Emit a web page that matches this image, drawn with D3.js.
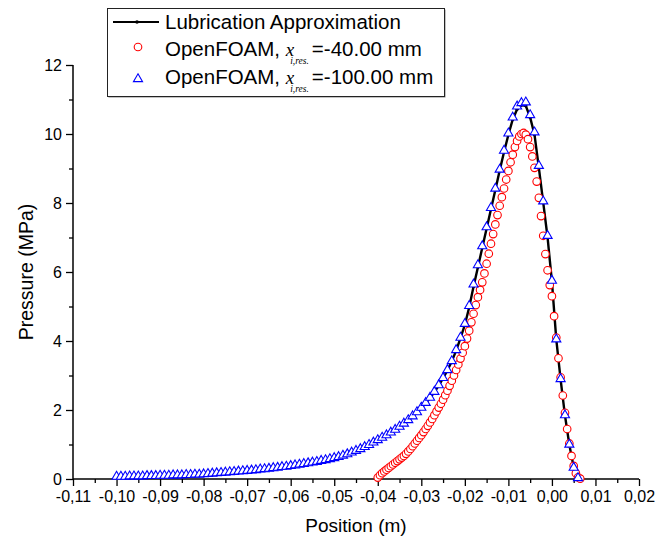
<!DOCTYPE html>
<html>
<head>
<meta charset="utf-8">
<script src="https://cdn.jsdelivr.net/npm/d3@7"></script>
<style>
    body { margin: 0; background: #fff; }
    text { font-family: "Liberation Sans", Arial, sans-serif; fill: #000; }
</style>
</head>
<body>
<div id="chart"></div>
<script>
// positions in mm, pressures in MPa
const lubPos = [-100,-99,-98,-97,-96,-95,-94,-93,-92,-91,-90,-89,-88,-87,-86,-85,-84,-83,-82,-81,
    -80,-79,-78,-77,-76,-75,-74,-73,-72,-71,-70,-69,-68,-67,-66,-65,-64,-63,-62,-61,
    -60,-59,-58,-57,-56,-55,-54,-53,-52,-51,-50,-49,-48,-47,-46,-45,-44,-43,-42,-41,
    -40,-39,-38,-37,-36,-35,-34,-33,-32,-31,-30,-29,-28,-27,-26,-25,-24,-23,-22,-21,
    -20,-19,-18,-17,-16,-15,-14,-13,-12,-11,-10,-9,-8,-7,-6,-5,-4,-3,-2,-1,
    0,1,2,3,4,5,6,7];
const lubP = [0.06,0.06,0.07,0.07,0.07,0.08,0.08,0.08,0.09,0.09,0.09,0.10,0.10,0.10,0.11,0.11,0.12,0.12,0.12,0.13,
    0.14,0.14,0.15,0.16,0.17,0.18,0.19,0.20,0.21,0.22,0.23,0.25,0.26,0.27,0.29,0.30,0.31,0.33,0.34,0.36,
    0.37,0.39,0.41,0.43,0.45,0.47,0.50,0.52,0.55,0.58,0.61,0.64,0.68,0.72,0.76,0.81,0.86,0.92,0.98,1.05,
    1.12,1.19,1.26,1.34,1.42,1.51,1.60,1.70,1.81,1.93,2.06,2.20,2.35,2.52,2.71,2.92,3.15,3.41,3.72,4.08,
    4.47,4.98,5.58,6.14,6.70,7.26,7.82,8.38,8.94,9.48,9.98,10.42,10.72,10.84,10.82,10.48,9.98,9.02,8.02,7.00,
    5.72,4.05,2.88,1.84,0.99,0.34,0.04,0.00];

const triPos = [-100,-99,-98,-97,-96,-95,-94,-93,-92,-91,-90,-89,-88,-87,-86,-85,-84,-83,-82,-81,
    -80,-79,-78,-77,-76,-75,-74,-73,-72,-71,-70,-69,-68,-67,-66,-65,-64,-63,-62,-61,
    -60,-59,-58,-57,-56,-55,-54,-53,-52,-51,-50,-49,-48,-47,-46,-45,-44,-43,-42,-41,
    -40,-39,-38,-37,-36,-35,-34,-33,-32,-31,-30,-29,-28,-27,-26,-25,-24,-23,-22,-21,
    -20,-19,-18,-17,-16,-15,-14,-13,-12,-11,-10,-9,-8,-7,-6,-5,-4,-3,-2,-1,
    0,1,2,3,4,5,6];
const triP = [0.07,0.07,0.07,0.08,0.08,0.08,0.08,0.09,0.09,0.09,0.10,0.10,0.10,0.11,0.11,0.11,0.12,0.12,0.13,0.13,
    0.14,0.15,0.16,0.17,0.18,0.19,0.20,0.21,0.22,0.23,0.24,0.25,0.26,0.28,0.29,0.30,0.32,0.33,0.35,0.36,
    0.38,0.40,0.42,0.44,0.46,0.48,0.50,0.53,0.55,0.58,0.61,0.64,0.68,0.72,0.77,0.82,0.87,0.93,0.99,1.06,
    1.13,1.20,1.27,1.35,1.43,1.52,1.61,1.71,1.82,1.94,2.07,2.21,2.36,2.53,2.72,2.93,3.16,3.42,3.74,4.10,
    4.50,5.02,5.64,6.20,6.75,7.30,7.86,8.42,8.97,9.52,10.02,10.48,10.80,10.90,10.92,10.55,10.05,9.08,8.05,7.05,
    5.75,4.05,2.90,1.85,1.00,0.33,0.03];

const circPos = [-40,-39.5,-39,-38.5,-38,-37.5,-37,-36.5,-36,-35.5,-35,-34.5,-34,-33.5,-33,-32.5,-32,-31.5,-31,-30.5,
    -30,-29.5,-29,-28.5,-28,-27.5,-27,-26.5,-26,-25.5,-25,-24.5,-24,-23.5,-23,-22.5,-22,-21.5,-21,-20.5,
    -20,-19.5,-19,-18.5,-18,-17.5,-17,-16.5,-16,-15.5,-15,-14.5,-14,-13.5,-13,-12.5,-12,-11.5,-11,-10.5,
    -10,-9.5,-9,-8.5,-8,-7.5,-7,-6.5,-6,-5.5,-5,-4.5,-4,-3.5,-3,-2.5,-2,-1.5,-1,-0.5,
    0,0.5,1,1.5,2,2.5,3,3.5,4,4.5,5,5.5,6,6.5];
const circP = [0.04,0.11,0.17,0.22,0.27,0.32,0.37,0.42,0.47,0.52,0.57,0.62,0.67,0.73,0.80,0.87,0.95,1.03,1.11,1.19,
    1.27,1.36,1.45,1.54,1.64,1.74,1.85,1.96,2.07,2.18,2.30,2.43,2.56,2.70,2.85,3.00,3.16,3.32,3.49,3.66,
    3.85,4.07,4.30,4.54,4.79,5.04,5.27,5.48,5.70,5.96,6.24,6.53,6.82,7.10,7.38,7.65,7.92,8.17,8.42,8.68,
    8.93,9.18,9.40,9.62,9.80,9.93,10.00,10.03,9.98,9.85,9.62,9.35,9.02,8.62,8.15,7.62,7.05,6.52,6.05,5.62,
    5.30,4.72,4.10,3.50,2.95,2.42,1.92,1.45,1.03,0.67,0.38,0.17,0.05,0.01];

const xMajor = [-110,-100,-90,-80,-70,-60,-50,-40,-30,-20,-10,0,10,20];
const xMinor = [-105,-95,-85,-75,-65,-55,-45,-35,-25,-15,-5,5,15];
const yMajor = [0,2,4,6,8,10,12];
const yMinor = [1,3,5,7,9,11];

const legendRows = [
    { label: "Lubrication Approximation", kind: "line" },
    { label: "OpenFOAM, ", sub: "i,res.", tail: "=-40.00 mm", kind: "circle" },
    { label: "OpenFOAM, ", sub: "i,res.", tail: "=-100.00 mm", kind: "triangle" }
];

const width = 655, height = 541;
const margin = { top: 65, right: 16, bottom: 62, left: 73 };

const svg = d3.select("#chart")
    .append("svg")
    .attr("width", width)
    .attr("height", height);

const x = d3.scaleLinear().domain([-110, 20]).range([margin.left, width - margin.right]);
const y = d3.scaleLinear().domain([0, 12]).range([height - margin.bottom, margin.top]);

const loc = d3.formatLocale({ decimal: ",", thousands: ".", grouping: [3], currency: ["", ""], minus: "-" });
const fmt = loc.format(".2f");

// axes
const gx = svg.append("g")
    .attr("transform", "translate(0," + y(0) + ")")
    .call(d3.axisBottom(x).tickValues(xMajor).tickSize(7).tickPadding(5).tickFormat(d => fmt(d / 1000)));
svg.append("g")
    .attr("transform", "translate(0," + y(0) + ")")
    .call(d3.axisBottom(x).tickValues(xMinor).tickSize(4).tickFormat(""))
    .select(".domain").remove();

const gy = svg.append("g")
    .attr("transform", "translate(" + x(-110) + ",0)")
    .call(d3.axisLeft(y).tickValues(yMajor).tickSize(7).tickPadding(4).tickFormat(d3.format("d")));
svg.append("g")
    .attr("transform", "translate(" + x(-110) + ",0)")
    .call(d3.axisLeft(y).tickValues(yMinor).tickSize(4).tickFormat(""))
    .select(".domain").remove();

svg.selectAll(".domain").attr("stroke-width", 1.5);
svg.selectAll(".tick line").attr("stroke-width", 1.3);
svg.selectAll(".tick text").style("font-size", "16px").style("font-family", "'Liberation Sans', Arial, sans-serif");

// plain axis lines without end ticks
gx.select(".domain").attr("d", "M" + x(-110) + ",0H" + x(20));
gy.select(".domain").attr("d", "M0," + y(0) + "V" + y(12));

svg.append("text")
    .attr("x", (x(-110) + x(20)) / 2)
    .attr("y", 532)
    .attr("text-anchor", "middle")
    .style("font-size", "19px")
    .text("Position (m)");

svg.append("text")
    .attr("transform", "translate(33," + (y(0) + y(12)) / 2 + ") rotate(-90)")
    .attr("text-anchor", "middle")
    .style("font-size", "19.5px")
    .text("Pressure (MPa)");

const lubData = lubPos.map((p, i) => ({ x: p, y: lubP[i] }));
const triData = triPos.map((p, i) => ({ x: p, y: triP[i] }));
const circData = circPos.map((p, i) => ({ x: p, y: circP[i] }));

const line = d3.line().x(d => x(d.x)).y(d => y(d.y));

svg.append("path")
    .datum(lubData)
    .attr("fill", "none")
    .attr("stroke", "#000")
    .attr("stroke-width", 2.4)
    .attr("d", line);

svg.append("g")
    .selectAll("circle")
    .data(lubData)
    .enter()
    .append("circle")
    .attr("cx", d => x(d.x))
    .attr("cy", d => y(d.y))
    .attr("r", 1.7)
    .attr("fill", "#000");

svg.append("g")
    .selectAll("circle")
    .data(circData)
    .enter()
    .append("circle")
    .attr("cx", d => x(d.x))
    .attr("cy", d => y(d.y))
    .attr("r", 3.8)
    .attr("fill", "#fff")
    .attr("stroke", "#ff0000")
    .attr("stroke-width", 1.1);

const tri = d3.symbol().type(d3.symbolTriangle).size(36);

svg.append("g")
    .selectAll("path")
    .data(triData)
    .enter()
    .append("path")
    .attr("d", tri)
    .attr("transform", d => "translate(" + x(d.x) + "," + y(d.y) + ")")
    .attr("fill", "#fff")
    .attr("stroke", "#0000ff")
    .attr("stroke-width", 1.1);

// legend
const legend = svg.append("g");
legend.append("rect")
    .attr("x", 108.5).attr("y", 9.5)
    .attr("width", 337).attr("height", 88)
    .attr("fill", "#888");
legend.append("rect")
    .attr("x", 107.5).attr("y", 8.5)
    .attr("width", 337).attr("height", 88)
    .attr("fill", "#fff")
    .attr("stroke", "#222")
    .attr("stroke-width", 1);

const rowY = [22, 47, 79];
const textY = [29, 56, 84];

legendRows.forEach((r, i) => {
    const cy = rowY[i];
    if (r.kind == "line") {
        legend.append("line")
            .attr("x1", 113).attr("x2", 159)
            .attr("y1", cy).attr("y2", cy)
            .attr("stroke", "#000").attr("stroke-width", 2);
        legend.append("circle")
            .attr("cx", 137).attr("cy", cy).attr("r", 1.8).attr("fill", "#000");
    } else if (r.kind == "circle") {
        legend.append("circle")
            .attr("cx", 138).attr("cy", cy).attr("r", 3.8)
            .attr("fill", "#fff").attr("stroke", "#ff0000").attr("stroke-width", 1.1);
    } else {
        legend.append("path")
            .attr("d", tri)
            .attr("transform", "translate(138," + cy + ")")
            .attr("fill", "#fff").attr("stroke", "#0000ff").attr("stroke-width", 1.1);
    }

    const t = legend.append("text")
        .attr("x", 165)
        .attr("y", textY[i])
        .style("font-size", "20.5px")
        .text(r.label);

    if (r.sub) {
        t.append("tspan")
            .style("font-family", "'Liberation Serif', 'Times New Roman', serif")
            .style("font-style", "italic")
            .style("font-size", "19px")
            .text("x");
        t.append("tspan")
            .attr("dx", -4)
            .attr("dy", 8)
            .style("font-family", "'Liberation Serif', 'Times New Roman', serif")
            .style("font-style", "italic")
            .style("font-size", "9.5px")
            .text(r.sub);
        t.append("tspan")
            .attr("dx", 3)
            .attr("dy", -8)
            .text(r.tail);
    }
});
</script>
</body>
</html>
